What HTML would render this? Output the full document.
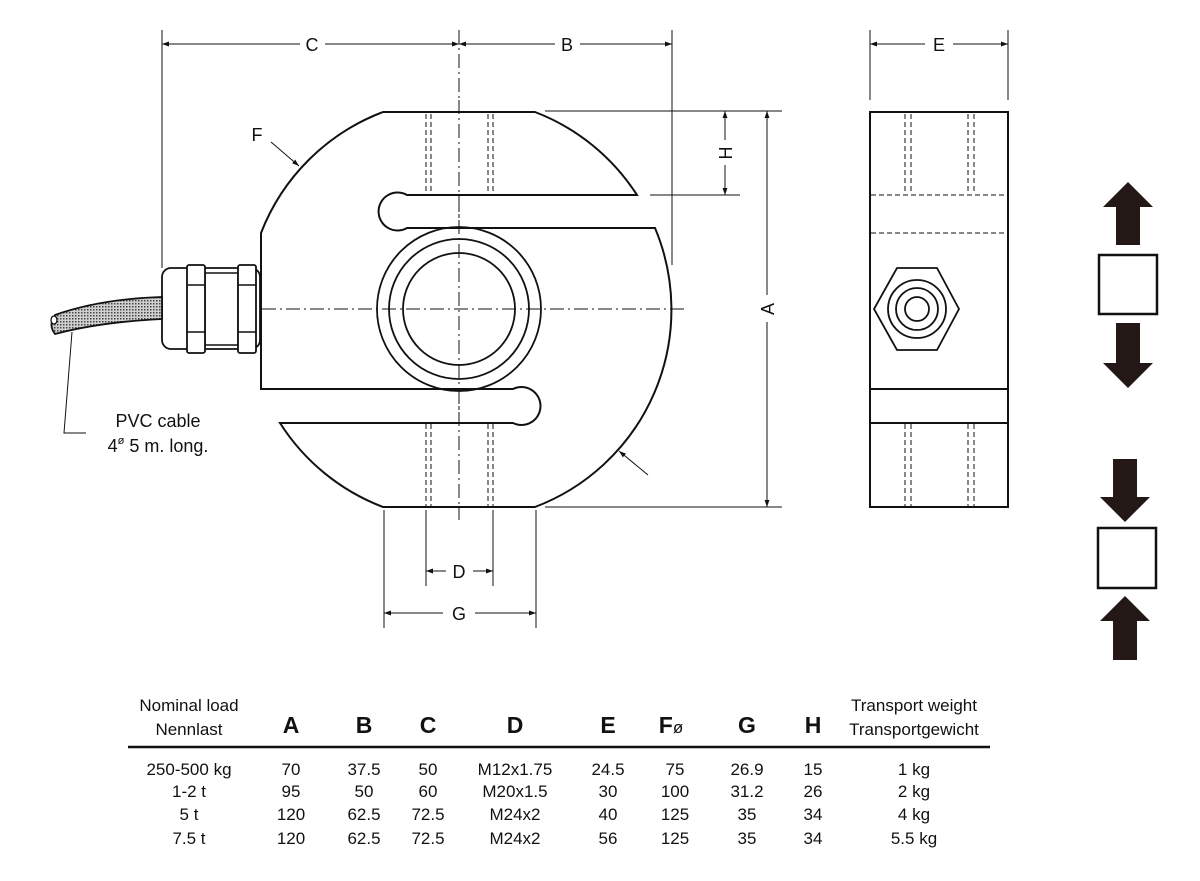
<!DOCTYPE html>
<html><head><meta charset="utf-8"><style>
html,body{margin:0;padding:0;background:#fff;}
svg{display:block;font-family:"Liberation Sans",Arial,sans-serif;}
</style></head><body>
<svg width="1200" height="881" viewBox="0 0 1200 881" xmlns="http://www.w3.org/2000/svg">
<defs>
<pattern id="dots" width="3" height="3" patternUnits="userSpaceOnUse"><rect width="3" height="3" fill="#d0d0d0"/><rect width="1.5" height="1.5" fill="#444"/></pattern>
<marker id="ah" viewBox="0 0 10 10" refX="10" refY="5" markerWidth="16" markerHeight="7" markerUnits="userSpaceOnUse" orient="auto"><path d="M0,1.5 L10,5 L0,8.5 Z" fill="#111"/></marker>
</defs>
<g stroke="#111" fill="none">
<line x1="459" y1="30" x2="459" y2="520" stroke-width="1" stroke-dasharray="14,4,2,4"/>
<!-- body -->
<path d="M383,112 L535,112 A211 211 0 0 1 637,195 L407,195 A19 19 0 1 0 407,228 L655,228 A211 211 0 0 1 535,507 L383,507 A211 211 0 0 1 280,423 L513,423 A19 19 0 1 0 513,389 L261,389 L261,233 A211 211 0 0 1 383,112 Z" fill="#fff" stroke-width="2"/>
<line x1="459" y1="100" x2="459" y2="520" stroke-width="1" stroke-dasharray="14,4,2,4"/>
<line x1="262" y1="309" x2="688" y2="309" stroke-width="1" stroke-dasharray="14,4,2,4"/>
<circle cx="459" cy="309" r="82" stroke-width="1.8"/>
<circle cx="459" cy="309" r="70" stroke-width="1.8"/>
<circle cx="459" cy="309" r="56" stroke-width="1.8"/>
<g stroke-width="1" stroke-dasharray="5,3">
<line x1="426" y1="114" x2="426" y2="194"/><line x1="431" y1="114" x2="431" y2="194"/>
<line x1="488" y1="114" x2="488" y2="194"/><line x1="493" y1="114" x2="493" y2="194"/>
<line x1="426" y1="424" x2="426" y2="506"/><line x1="431" y1="424" x2="431" y2="506"/>
<line x1="488" y1="424" x2="488" y2="506"/><line x1="493" y1="424" x2="493" y2="506"/>
</g>
<!-- gland -->
<rect x="162" y="268" width="98" height="81" rx="9" fill="#fff" stroke-width="1.8"/>
<rect x="205" y="273" width="33" height="72" fill="#fff" stroke-width="1.5"/>
<rect x="187" y="265" width="18" height="88" rx="2" fill="#fff" stroke-width="1.8"/>
<rect x="238" y="265" width="18" height="88" rx="2" fill="#fff" stroke-width="1.8"/>
<line x1="187" y1="285" x2="205" y2="285" stroke-width="1.5"/><line x1="187" y1="332" x2="205" y2="332" stroke-width="1.5"/>
<line x1="238" y1="285" x2="256" y2="285" stroke-width="1.5"/><line x1="238" y1="332" x2="256" y2="332" stroke-width="1.5"/>
<!-- cable -->
<path d="M162,297 Q100,299 55,315 Q48,325 55,334 Q100,322 162,319 Z" fill="url(#dots)" stroke-width="1.8"/>
<ellipse cx="54" cy="320" rx="3" ry="4" fill="#fff" stroke-width="1.3"/>
<polyline points="72,332 64,433 86,433" stroke-width="1"/>
<!-- dims top -->
<line x1="162" y1="30" x2="162" y2="268" stroke-width="1"/>
<line x1="672" y1="30" x2="672" y2="265" stroke-width="1"/>
<line x1="300" y1="44" x2="162" y2="44" stroke-width="1" marker-end="url(#ah)"/>
<line x1="325" y1="44" x2="459" y2="44" stroke-width="1" marker-end="url(#ah)"/>
<line x1="555" y1="44" x2="459" y2="44" stroke-width="1" marker-end="url(#ah)"/>
<line x1="580" y1="44" x2="672" y2="44" stroke-width="1" marker-end="url(#ah)"/>
<!-- right dims -->
<line x1="545" y1="111" x2="782" y2="111" stroke-width="1"/>
<line x1="650" y1="195" x2="740" y2="195" stroke-width="1"/>
<line x1="545" y1="507" x2="782" y2="507" stroke-width="1"/>
<line x1="725" y1="140" x2="725" y2="111" stroke-width="1" marker-end="url(#ah)"/>
<line x1="725" y1="165" x2="725" y2="195" stroke-width="1" marker-end="url(#ah)"/>
<line x1="767" y1="295" x2="767" y2="111" stroke-width="1" marker-end="url(#ah)"/>
<line x1="767" y1="322" x2="767" y2="507" stroke-width="1" marker-end="url(#ah)"/>
<!-- F leaders -->
<line x1="271" y1="142" x2="299" y2="166" stroke-width="1" marker-end="url(#ah)"/>
<line x1="648" y1="475" x2="619" y2="451" stroke-width="1" marker-end="url(#ah)"/>
<!-- bottom dims -->
<line x1="426" y1="510" x2="426" y2="586" stroke-width="1"/>
<line x1="493" y1="510" x2="493" y2="586" stroke-width="1"/>
<line x1="384" y1="510" x2="384" y2="628" stroke-width="1"/>
<line x1="536" y1="510" x2="536" y2="628" stroke-width="1"/>
<line x1="446" y1="571" x2="426" y2="571" stroke-width="1" marker-end="url(#ah)"/>
<line x1="473" y1="571" x2="493" y2="571" stroke-width="1" marker-end="url(#ah)"/>
<line x1="443" y1="613" x2="384" y2="613" stroke-width="1" marker-end="url(#ah)"/>
<line x1="475" y1="613" x2="536" y2="613" stroke-width="1" marker-end="url(#ah)"/>
<!-- side view -->
<line x1="870" y1="30" x2="870" y2="100" stroke-width="1"/>
<line x1="1008" y1="30" x2="1008" y2="100" stroke-width="1"/>
<line x1="925" y1="44" x2="870" y2="44" stroke-width="1" marker-end="url(#ah)"/>
<line x1="953" y1="44" x2="1008" y2="44" stroke-width="1" marker-end="url(#ah)"/>
<rect x="870" y="112" width="138" height="395" fill="#fff" stroke-width="2"/>
<line x1="870" y1="389" x2="1008" y2="389" stroke-width="2"/>
<line x1="870" y1="423" x2="1008" y2="423" stroke-width="2"/>
<g stroke-width="1" stroke-dasharray="5,3">
<line x1="871" y1="195" x2="1007" y2="195"/><line x1="871" y1="233" x2="1007" y2="233"/>
<line x1="905" y1="114" x2="905" y2="194"/><line x1="911" y1="114" x2="911" y2="194"/>
<line x1="968" y1="114" x2="968" y2="194"/><line x1="974" y1="114" x2="974" y2="194"/>
<line x1="905" y1="424" x2="905" y2="506"/><line x1="911" y1="424" x2="911" y2="506"/>
<line x1="968" y1="424" x2="968" y2="506"/><line x1="974" y1="424" x2="974" y2="506"/>
</g>
<polygon points="897,268 937,268 959,309 937,350 897,350 874,309" fill="#fff" stroke-width="1.8"/>
<circle cx="917" cy="309" r="29" stroke-width="1.8"/>
<circle cx="917" cy="309" r="21" stroke-width="1.8"/>
<circle cx="917" cy="309" r="12" stroke-width="1.8"/>
<rect x="1099" y="255" width="58" height="59" stroke-width="2.5"/>
<rect x="1098" y="528" width="58" height="60" stroke-width="2.5"/>
</g>
<g fill="#231815">
<polygon points="1128,182 1153,207 1140,207 1140,245 1116,245 1116,207 1103,207"/>
<polygon points="1128,388 1153,363 1140,363 1140,323 1116,323 1116,363 1103,363"/>
<polygon points="1125,522 1150,497 1137,497 1137,459 1113,459 1113,497 1100,497"/>
<polygon points="1125,596 1150,621 1137,621 1137,660 1113,660 1113,621 1100,621"/>
</g>
<g fill="#111" font-size="18" text-anchor="middle">
<text x="312" y="51">C</text>
<text x="567" y="51">B</text>
<text x="939" y="51">E</text>
<text x="257" y="141">F</text>
<text x="459" y="578">D</text>
<text x="459" y="620">G</text>
<text transform="translate(732,153) rotate(-90)">H</text>
<text transform="translate(774,309) rotate(-90)">A</text>
<text x="158" y="427">PVC cable</text>
<text x="158" y="452">4<tspan font-size="11" dy="-8">ø</tspan><tspan dy="8"> 5 m. long.</tspan></text>
</g>
<line x1="128" y1="747" x2="990" y2="747" stroke="#111" stroke-width="2.5"/>
<g fill="#111" font-size="17" text-anchor="middle">
<text x="189" y="711">Nominal load</text>
<text x="189" y="735">Nennlast</text>
<text x="914" y="711">Transport weight</text>
<text x="914" y="735">Transportgewicht</text>
<g font-size="23" font-weight="bold">
<text x="291" y="733">A</text><text x="364" y="733">B</text><text x="428" y="733">C</text><text x="515" y="733">D</text><text x="608" y="733">E</text><text x="671" y="733">F<tspan font-weight="normal" font-size="17">ø</tspan></text><text x="747" y="733">G</text><text x="813" y="733">H</text>
</g>
<text x="189" y="775">250-500 kg</text><text x="291" y="775">70</text><text x="364" y="775">37.5</text><text x="428" y="775">50</text><text x="515" y="775">M12x1.75</text><text x="608" y="775">24.5</text><text x="675" y="775">75</text><text x="747" y="775">26.9</text><text x="813" y="775">15</text><text x="914" y="775">1 kg</text>
<text x="189" y="797">1-2 t</text><text x="291" y="797">95</text><text x="364" y="797">50</text><text x="428" y="797">60</text><text x="515" y="797">M20x1.5</text><text x="608" y="797">30</text><text x="675" y="797">100</text><text x="747" y="797">31.2</text><text x="813" y="797">26</text><text x="914" y="797">2 kg</text>
<text x="189" y="820">5 t</text><text x="291" y="820">120</text><text x="364" y="820">62.5</text><text x="428" y="820">72.5</text><text x="515" y="820">M24x2</text><text x="608" y="820">40</text><text x="675" y="820">125</text><text x="747" y="820">35</text><text x="813" y="820">34</text><text x="914" y="820">4 kg</text>
<text x="189" y="844">7.5 t</text><text x="291" y="844">120</text><text x="364" y="844">62.5</text><text x="428" y="844">72.5</text><text x="515" y="844">M24x2</text><text x="608" y="844">56</text><text x="675" y="844">125</text><text x="747" y="844">35</text><text x="813" y="844">34</text><text x="914" y="844">5.5 kg</text>
</g>
</svg>
</body></html>
